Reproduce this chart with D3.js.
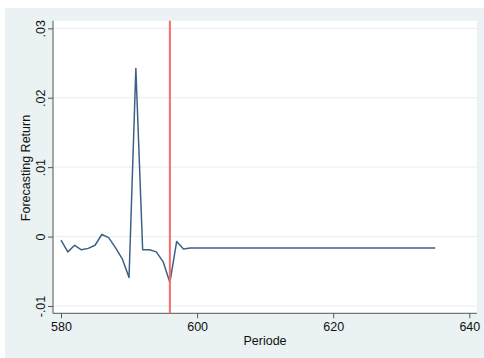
<!DOCTYPE html>
<html>
<head>
<meta charset="utf-8">
<script src="https://cdn.jsdelivr.net/npm/d3@7"></script>
<style>
    body { margin: 0; background: #fff; }
    svg { display: block; font-family: "Liberation Sans", Arial, sans-serif; }
    .axis path, .axis line { stroke: #555; }
    .axis text { fill: #111; font-size: 12.5px; }
</style>
</head>
<body>
<svg class="fc-chart" width="484" height="358"></svg>
<script>
"use strict";

var periods = [580, 581, 582, 583, 584, 585, 586, 587, 588, 589,
    590, 591, 592, 593, 594, 595, 596, 597, 598, 599,
    600, 601, 602, 603, 604, 605, 606, 607, 608, 609,
    610, 611, 612, 613, 614, 615, 616, 617, 618, 619,
    620, 621, 622, 623, 624, 625, 626, 627, 628, 629,
    630, 631, 632, 633, 634, 635];
var returns = [-0.0005, -0.0022, -0.00125, -0.0019, -0.0017, -0.00125, 0.0003, -0.00015, -0.0016, -0.0032,
    -0.0059, 0.0242, -0.0019, -0.0019, -0.0022, -0.0036, -0.0066, -0.0007, -0.0018, -0.00165,
    -0.00165, -0.00165, -0.00165, -0.00165, -0.00165, -0.00165, -0.00165, -0.00165, -0.00165, -0.00165,
    -0.00165, -0.00165, -0.00165, -0.00165, -0.00165, -0.00165, -0.00165, -0.00165, -0.00165, -0.00165,
    -0.00165, -0.00165, -0.00165, -0.00165, -0.00165, -0.00165, -0.00165, -0.00165, -0.00165, -0.00165,
    -0.00165, -0.00165, -0.00165, -0.00165, -0.00165, -0.00165];
var xTicks = [580, 600, 620, 640];
var yTicks = [-0.01, 0, 0.01, 0.02, 0.03];
var cutoff = [596];

// stata style: .03, 0, -.01
function stataFormat(v) {
    if (v === 0) return "0";
    return d3.format(".2f")(v).replace("\u2212", "-").replace("0.", ".");
}

function drawChart() {
    var svg = d3.select("svg.fc-chart");
    var plot = { left: 53, right: 477, top: 20.7, bottom: 313.3 };

    svg.append("rect").attr("x", 5).attr("y", 8).attr("width", 479).attr("height", 350).attr("fill", "#eaf2f3");
    svg.append("rect").attr("x", plot.left).attr("y", plot.top)
        .attr("width", plot.right - plot.left).attr("height", plot.bottom - plot.top).attr("fill", "#fff");

    var x = d3.scaleLinear().domain([580, 640]).range([61, 469.3]);
    var y = d3.scaleLinear().domain([-0.01, 0.03]).range([306, 28.3]);

    // grid
    svg.append("g").selectAll("line").data(yTicks).enter().append("line")
        .attr("x1", plot.left).attr("x2", plot.right)
        .attr("y1", function (d) { return y(d); }).attr("y2", function (d) { return y(d); })
        .attr("stroke", "#e6eff1").attr("stroke-width", 1);

    var yAxis = svg.append("g").attr("class", "axis").attr("transform", "translate(" + plot.left + ", 0)")
        .call(d3.axisLeft(y).tickValues(yTicks).tickSize(5).tickPadding(4).tickFormat(stataFormat));
    yAxis.select(".domain").attr("d", "M0," + plot.top + "V" + plot.bottom);
    yAxis.selectAll(".tick text")
        .attr("x", null).attr("dy", null)
        .attr("text-anchor", "middle")
        .attr("transform", "translate(-8, 0) rotate(-90)");

    var xAxis = svg.append("g").attr("class", "axis").attr("transform", "translate(0, " + plot.bottom + ")")
        .call(d3.axisBottom(x).tickValues(xTicks).tickSize(5).tickPadding(4).tickFormat(d3.format("d")));
    xAxis.select(".domain").attr("d", "M" + plot.left + ",0H" + plot.right);

    var line = d3.line().x(function (d, i) { return x(periods[i]); }).y(function (d) { return y(d); });
    svg.append("path").datum(returns).attr("d", line)
        .attr("fill", "none").attr("stroke", "#3d6186").attr("stroke-width", 1.5).attr("stroke-linejoin", "round");

    svg.selectAll(".cutoff").data(cutoff).enter().append("line").attr("class", "cutoff")
        .attr("x1", function (d) { return x(d); }).attr("x2", function (d) { return x(d); })
        .attr("y1", plot.top).attr("y2", plot.bottom)
        .attr("stroke", "#fa6a6a").attr("stroke-width", 2);

    svg.append("text").attr("x", 265).attr("y", 345).attr("text-anchor", "middle")
        .attr("font-size", 12.5).attr("fill", "#111").text("Periode");
    svg.append("text").attr("transform", "translate(30, 168) rotate(-90)").attr("text-anchor", "middle")
        .attr("font-size", 12.5).attr("fill", "#111").text("Forecasting Return");
}

drawChart();
</script>
</body>
</html>
